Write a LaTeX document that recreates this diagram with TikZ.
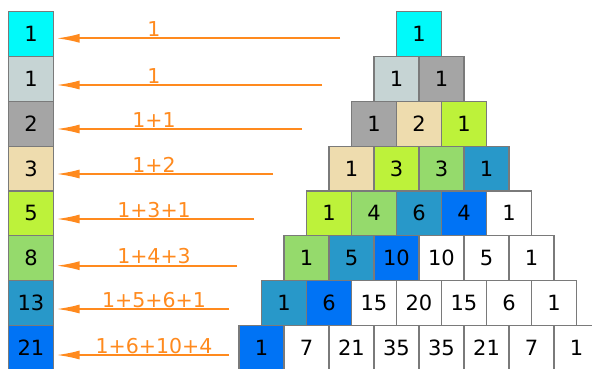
\documentclass[tikz,border=0pt]{standalone}
\usepackage{fontspec}
\setsansfont{DejaVu Sans}
\usepackage{xcolor}
\usetikzlibrary{arrows.meta}
\definecolor{Aqua}{HTML}{00FAFA}
\definecolor{Mist}{HTML}{C6D4D4}
\definecolor{Ash}{HTML}{A5A5A5}
\definecolor{Sand}{HTML}{EEDCAE}
\definecolor{Lime}{HTML}{BDF23A}
\definecolor{Leaf}{HTML}{95DA6C}
\definecolor{Ocean}{HTML}{2898C9}
\definecolor{Azure}{HTML}{0073F5}
\definecolor{Frame}{HTML}{7A7A7A}
\definecolor{Orange}{HTML}{FF8A1E}

\begin{document}
\begin{tikzpicture}[
        x=1pt,
        y=-1pt,
        font=\sffamily\fontsize{21}{24}\selectfont,
        cell/.style={draw=Frame, fill=white, line width=1.2pt, inner sep=0pt, minimum width=45pt, minimum height=44.8pt, text=black},
        d0/.style={cell, fill=Aqua},
        d1/.style={cell, fill=Mist},
        d2/.style={cell, fill=Ash},
        d3/.style={cell, fill=Sand},
        d4/.style={cell, fill=Lime},
        d5/.style={cell, fill=Leaf},
        d6/.style={cell, fill=Ocean},
        d7/.style={cell, fill=Azure},
        flow/.style={-{Latex[length=23pt,width=9pt]}, draw=Orange, line width=1.7pt, shorten >=2.5pt},
        sum/.style={anchor=base, text=Orange, inner sep=0pt, font=\sffamily\fontsize{20.5}{24}\selectfont}
      ]
        \useasboundingbox (0,0) rectangle (592,368);

        % Fibonacci column
        \node[d0] (f0) at (31,34.1) {1};
        \node[d1] (f1) at (31,78.9) {1};
        \node[d2] (f2) at (31,123.7) {2};
        \node[d3] (f3) at (31,168.5) {3};
        \node[d4] (f4) at (31,213.3) {5};
        \node[d5] (f5) at (31,258.1) {8};
        \node[d6] (f6) at (31,302.9) {13};
        \node[d7] (f7) at (31,347.7) {21};

        % Pascal triangle
        \node[d0] (p00) at (419,34.1) {1};

        \node[d1] (p10) at (396.5,78.9) {1};
        \node[d2] (p11) at (441.5,78.9) {1};

        \node[d2] (p20) at (374,123.7) {1};
        \node[d3] (p21) at (419,123.7) {2};
        \node[d4] (p22) at (464,123.7) {1};

        \node[d3] (p30) at (351.5,168.5) {1};
        \node[d4] (p31) at (396.5,168.5) {3};
        \node[d5] (p32) at (441.5,168.5) {3};
        \node[d6] (p33) at (486.5,168.5) {1};

        \node[d4] (p40) at (329,213.3) {1};
        \node[d5] (p41) at (374,213.3) {4};
        \node[d6] (p42) at (419,213.3) {6};
        \node[d7] (p43) at (464,213.3) {4};
        \node[cell] (p44) at (509,213.3) {1};

        \node[d5] (p50) at (306.5,258.1) {1};
        \node[d6] (p51) at (351.5,258.1) {5};
        \node[d7] (p52) at (396.5,258.1) {10};
        \node[cell] (p53) at (441.5,258.1) {10};
        \node[cell] (p54) at (486.5,258.1) {5};
        \node[cell] (p55) at (531.5,258.1) {1};

        \node[d6] (p60) at (284,302.9) {1};
        \node[d7] (p61) at (329,302.9) {6};
        \node[cell] (p62) at (374,302.9) {15};
        \node[cell] (p63) at (419,302.9) {20};
        \node[cell] (p64) at (464,302.9) {15};
        \node[cell] (p65) at (509,302.9) {6};
        \node[cell] (p66) at (554,302.9) {1};

        \node[d7] (p70) at (261.5,347.7) {1};
        \node[cell] (p71) at (306.5,347.7) {7};
        \node[cell] (p72) at (351.5,347.7) {21};
        \node[cell] (p73) at (396.5,347.7) {35};
        \node[cell] (p74) at (441.5,347.7) {35};
        \node[cell] (p75) at (486.5,347.7) {21};
        \node[cell] (p76) at (531.5,347.7) {7};
        \node[cell] (p77) at (576.5,347.7) {1};

        % diagonal sums
        \coordinate (s0) at (340,38.3);
        \coordinate (s1) at (322,85);
        \coordinate (s2) at (302,129);
        \coordinate (s3) at (273,174);
        \coordinate (s4) at (254,219);
        \coordinate (s5) at (237,265.7);
        \coordinate (s6) at (229,309);
        \coordinate (s7) at (229,355);

        \draw[flow] (s0) -- (s0 -| f0.east);
        \draw[flow] (s1) -- (s1 -| f1.east);
        \draw[flow] (s2) -- (s2 -| f2.east);
        \draw[flow] (s3) -- (s3 -| f3.east);
        \draw[flow] (s4) -- (s4 -| f4.east);
        \draw[flow] (s5) -- (s5 -| f5.east);
        \draw[flow] (s6) -- (s6 -| f6.east);
        \draw[flow] (s7) -- (s7 -| f7.east);

        \node[sum] (l0) at (154,36.3) {1};
        \node[sum] (l1) at (154,83) {1};
        \node[sum] (l2) at (154,127) {1+1};
        \node[sum] (l3) at (154,172) {1+2};
        \node[sum] (l4) at (154,217) {1+3+1};
        \node[sum] (l5) at (154,263.7) {1+4+3};
        \node[sum] (l6) at (154,307) {1+5+6+1};
        \node[sum] (l7) at (154,353) {1+6+10+4};
      \end{tikzpicture}
\end{document}
